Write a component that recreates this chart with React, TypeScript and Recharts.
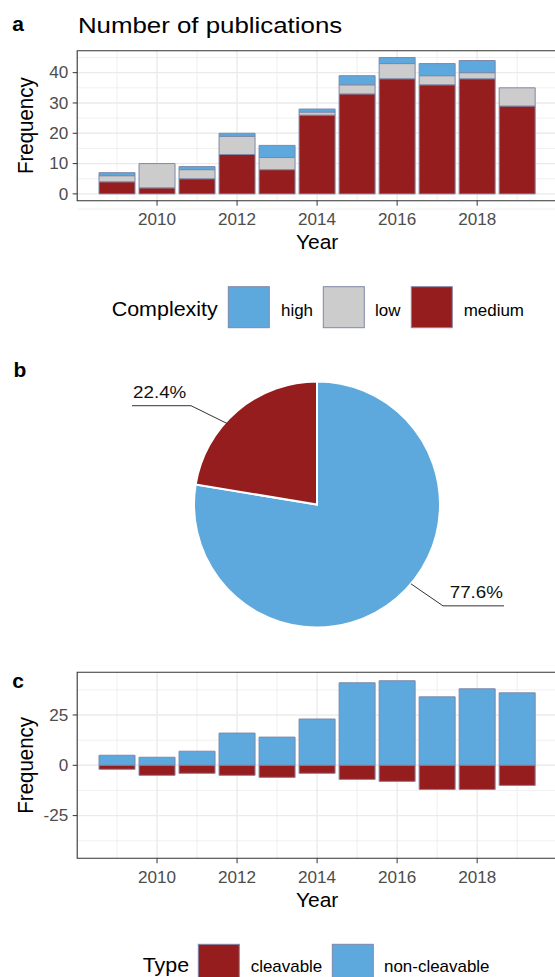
import React from 'react';
import {
  BarChart,
  Bar,
  XAxis,
  YAxis,
  CartesianGrid,
  ReferenceArea,
  PieChart,
  Pie,
  Cell,
  Label,
} from 'recharts';

// ---- data ----
const years = [2009, 2010, 2011, 2012, 2013, 2014, 2015, 2016, 2017, 2018, 2019];
const mediumCounts = [4, 2, 5, 13, 8, 26, 33, 38, 36, 38, 29];
const lowCounts = [2, 8, 3, 6, 4, 1, 3, 5, 3, 2, 6];
const highCounts = [1, 0, 1, 1, 4, 1, 3, 2, 4, 4, 0];

const nonCleavableCounts = [5, 4, 7, 16, 14, 23, 41, 42, 34, 38, 36];
const cleavableCounts = [-2, -5, -4, -5, -6, -4, -7, -8, -12, -12, -10];

const typeNames = ['non-cleavable', 'cleavable'];
const typePercents = [77.6, 22.4];

const yearTicks = [2010, 2012, 2014, 2016, 2018];
const freqTicksA = [0, 10, 20, 30, 40];
const freqTicksC = [-25, 0, 25];

// ---- styling ----
const FONT = '"Liberation Sans", Arial, Helvetica, sans-serif';
const COLORS: Record<string, string> = {
  high: '#5DA9DD',
  low: '#CCCCCC',
  medium: '#961D1D',
  cleavable: '#961D1D',
  'non-cleavable': '#5DA9DD',
};
const OUTLINE = '#7F88A8';
const GRID = '#EBEBEB';
const BORDER = '#333333';
const TICK_TEXT = '#4D4D4D';

const xDomain: [number, number] = [2008.005, 2019.995];
const yDomainA: [number, number] = [-2.25, 47.25];
const yDomainC: [number, number] = [-46.2, 46.2];

const complexityData = years.map((year, i) => ({
  year,
  medium: mediumCounts[i],
  low: lowCounts[i],
  high: highCounts[i],
}));

const typeData = years.map((year, i) => ({
  year,
  nonCleavable: nonCleavableCounts[i],
  cleavable: cleavableCounts[i],
}));

const pieData = typeNames.map((name, i) => ({ name, value: typePercents[i] }));

// major grid continues one break past the last labelled tick;
// minor grid lines sit halfway between major breaks
const withNext = (t: number[]) => [...t, t[t.length - 1] + (t[1] - t[0])];
const midpoints = (t: number[]) => {
  const step = t[1] - t[0];
  const out: number[] = [t[0] - step / 2];
  t.forEach((v) => out.push(v + step / 2));
  return out;
};

const majorYears = withNext(yearTicks);
const minorYears = midpoints(yearTicks);
const minorA = midpoints(freqTicksA);
const minorC = midpoints(freqTicksC);

// stretched text helper
const SText = ({
  x,
  y,
  sx = 1.07,
  anchor = 'start',
  size = 16,
  weight = 'normal',
  fill = '#000',
  children,
}: any) => (
  <text
    transform={`translate(${x},${y}) scale(${sx},1)`}
    textAnchor={anchor}
    fontSize={size}
    fontWeight={weight}
    fill={fill}
    fontFamily={FONT}
  >
    {children}
  </text>
);

const XTick = (p: any) => (
  <g transform={`translate(${p.x},${p.y})`}>
    <text
      transform="scale(1.07,1)"
      y={11.4}
      textAnchor="middle"
      fontSize={16}
      fill={TICK_TEXT}
      fontFamily={FONT}
    >
      {p.payload.value}
    </text>
  </g>
);

const YTick = (p: any) => (
  <g transform={`translate(${p.x},${p.y})`}>
    <text
      transform="scale(1.07,1)"
      dy="0.355em"
      textAnchor="end"
      fontSize={16}
      fill={TICK_TEXT}
      fontFamily={FONT}
    >
      {p.payload.value}
    </text>
  </g>
);

const yearTitle = (props: any) => {
  const vb = props.viewBox;
  return (
    <SText x={vb.x + vb.width / 2} y={vb.y + 48.6} sx={1.075} anchor="middle" size={19.5}>
      Year
    </SText>
  );
};

const freqTitle = (props: any) => {
  const vb = props.viewBox;
  return (
    <text
      transform={`translate(33,${vb.y + vb.height / 2}) scale(1.1,1) rotate(-90)`}
      textAnchor="middle"
      fontSize={20.5}
      fill="#000"
      fontFamily={FONT}
    >
      Frequency
    </text>
  );
};

// ---- pie labels with elbow leader lines ----
const RAD = Math.PI / 180;
const pieLabelLayout: Record<string, any> = {
  'non-cleavable': { shift: 9.5, rf: 1.0, elbow: [32, 22], run: 61, side: 'right' },
  cleavable: { shift: 7.6, rf: 0.98, elbow: [-36.5, -18], run: 59, side: 'left' },
};

const renderPieLabel = (p: any) => {
  const cfg = pieLabelLayout[p.name ?? p.payload?.name];
  if (!cfg) return null;
  const a = (p.midAngle + cfg.shift) * RAD;
  const r = p.outerRadius * cfg.rf;
  const ax = p.cx + r * Math.cos(a);
  const ay = p.cy - r * Math.sin(a);
  const ex = ax + cfg.elbow[0];
  const ey = ay + cfg.elbow[1];
  const dir = cfg.side === 'right' ? 1 : -1;
  const tx = ex + dir * cfg.run;
  const label = `${Number(p.value).toFixed(1)}%`;
  return (
    <g>
      <polyline
        points={`${ax},${ay} ${ex},${ey} ${tx},${ey}`}
        fill="none"
        stroke="#333"
        strokeWidth={1}
      />
      <SText
        x={cfg.side === 'right' ? tx - 1 : tx + 1}
        y={ey - 8}
        sx={1.16}
        anchor={cfg.side === 'right' ? 'end' : 'start'}
        size={16.2}
        fill="#111"
      >
        {label}
      </SText>
    </g>
  );
};

// ---- legends ----
const KEY = 41;
const complexityLegend = {
  title: 'Complexity',
  titleX: 111.7,
  keyTop: 286.7,
  baseline: 316,
  items: [
    { name: 'high', keyX: 228.3, textX: 281 },
    { name: 'low', keyX: 323.3, textX: 375 },
    { name: 'medium', keyX: 411.3, textX: 463.7 },
  ],
};
const typeLegend = {
  title: 'Type',
  titleX: 142.7,
  keyTop: 944.3,
  baseline: 971.7,
  items: [
    { name: 'cleavable', keyX: 198.3, textX: 250.7 },
    { name: 'non-cleavable', keyX: 332.3, textX: 384 },
  ],
};

const LegendRow = ({ spec }: any) => (
  <g>
    <SText x={spec.titleX} y={spec.baseline} sx={1.1} size={19.5}>
      {spec.title}
    </SText>
    {spec.items.map((it: any) => (
      <g key={it.name}>
        <rect
          x={it.keyX}
          y={spec.keyTop}
          width={KEY}
          height={KEY}
          fill={COLORS[it.name]}
          stroke={OUTLINE}
          strokeWidth={1}
        />
        <SText x={it.textX} y={spec.baseline} sx={1.06} size={16}>
          {it.name}
        </SText>
      </g>
    ))}
  </g>
);

const CHART_W = 560;

const xAxisProps = {
  dataKey: 'year',
  type: 'number' as const,
  domain: xDomain,
  allowDataOverflow: true,
  ticks: yearTicks,
  interval: 0 as const,
  height: 50,
  axisLine: false,
  tickLine: { stroke: BORDER, strokeWidth: 1 },
  tickSize: 5,
  tickMargin: 8,
};

export default function App() {
  return (
    <div
      style={{
        position: 'absolute',
        left: 0,
        top: 0,
        width: 555,
        height: 977,
        overflow: 'hidden',
        background: '#fff',
        fontFamily: FONT,
      }}
    >
      {/* panel a: stacked publications by complexity */}
      <div style={{ position: 'absolute', left: 0, top: 0 }}>
        <BarChart
          width={CHART_W}
          height={260}
          data={complexityData}
          margin={{ top: 50.7, right: CHART_W - 557, bottom: 9.3, left: 0 }}
        >
          <CartesianGrid
            stroke={GRID}
            strokeWidth={0.75}
            horizontalValues={minorA}
            verticalValues={minorYears}
          />
          <CartesianGrid
            stroke={GRID}
            strokeWidth={1.4}
            horizontalValues={freqTicksA}
            verticalValues={majorYears}
          />
          <XAxis {...xAxisProps} tick={<XTick />}>
            <Label content={yearTitle} />
          </XAxis>
          <YAxis
            type="number"
            domain={yDomainA}
            allowDataOverflow
            ticks={freqTicksA}
            interval={0}
            width={77.2}
            axisLine={false}
            tickLine={{ stroke: BORDER, strokeWidth: 1 }}
            tickSize={4.5}
            tickMargin={4.5}
            tick={<YTick />}
          >
            <Label content={freqTitle} />
          </YAxis>
          <Bar dataKey="medium" stackId="c" barSize={36} fill={COLORS.medium} stroke={OUTLINE} strokeWidth={1} isAnimationActive={false} />
          <Bar dataKey="low" stackId="c" barSize={36} fill={COLORS.low} stroke={OUTLINE} strokeWidth={1} isAnimationActive={false} />
          <Bar dataKey="high" stackId="c" barSize={36} fill={COLORS.high} stroke={OUTLINE} strokeWidth={1} isAnimationActive={false} />
          <ReferenceArea
            x1={xDomain[0]}
            x2={xDomain[1]}
            y1={yDomainA[0]}
            y2={yDomainA[1]}
            fill="none"
            fillOpacity={0}
            stroke={BORDER}
            strokeWidth={1.1}
            ifOverflow="visible"
          />
        </BarChart>
      </div>

      {/* panel b: share of cleavable vs non-cleavable */}
      <div style={{ position: 'absolute', left: 0, top: 360 }}>
        <PieChart width={555} height={300} margin={{ top: 0, right: 0, bottom: 0, left: 0 }}>
          <Pie
            data={pieData}
            dataKey="value"
            nameKey="name"
            cx={317}
            cy={144.5}
            outerRadius={123}
            innerRadius={0}
            startAngle={90}
            endAngle={-270}
            stroke="#fff"
            strokeWidth={2}
            labelLine={false}
            label={renderPieLabel}
            isAnimationActive={false}
          >
            {pieData.map((d) => (
              <Cell key={d.name} fill={COLORS[d.name]} />
            ))}
          </Pie>
        </PieChart>
      </div>

      {/* panel c: cleavable (down) vs non-cleavable (up) */}
      <div style={{ position: 'absolute', left: 0, top: 620 }}>
        <BarChart
          width={CHART_W}
          height={300}
          data={typeData}
          stackOffset="sign"
          margin={{ top: 52.3, right: CHART_W - 557, bottom: 11.7, left: 0 }}
        >
          <CartesianGrid
            stroke={GRID}
            strokeWidth={0.75}
            horizontalValues={minorC}
            verticalValues={minorYears}
          />
          <CartesianGrid
            stroke={GRID}
            strokeWidth={1.4}
            horizontalValues={freqTicksC}
            verticalValues={majorYears}
          />
          <XAxis {...xAxisProps} tick={<XTick />}>
            <Label content={yearTitle} />
          </XAxis>
          <YAxis
            type="number"
            domain={yDomainC}
            allowDataOverflow
            ticks={freqTicksC}
            interval={0}
            width={77.2}
            axisLine={false}
            tickLine={{ stroke: BORDER, strokeWidth: 1 }}
            tickSize={4.5}
            tickMargin={4.5}
            tick={<YTick />}
          >
            <Label content={freqTitle} />
          </YAxis>
          <Bar dataKey="nonCleavable" stackId="t" barSize={36} fill={COLORS['non-cleavable']} stroke={OUTLINE} strokeWidth={1} isAnimationActive={false} />
          <Bar dataKey="cleavable" stackId="t" barSize={36} fill={COLORS.cleavable} stroke={OUTLINE} strokeWidth={1} isAnimationActive={false} />
          <ReferenceArea
            x1={xDomain[0]}
            x2={xDomain[1]}
            y1={yDomainC[0]}
            y2={yDomainC[1]}
            fill="none"
            fillOpacity={0}
            stroke={BORDER}
            strokeWidth={1.1}
            ifOverflow="visible"
          />
        </BarChart>
      </div>

      {/* titles, panel tags and legends */}
      <svg
        width={555}
        height={977}
        style={{ position: 'absolute', left: 0, top: 0, pointerEvents: 'none' }}
      >
        <SText x={12.3} y={30.7} sx={1.05} size={20} weight="bold">a</SText>
        <SText x={77.9} y={32.7} sx={1.16} size={22.3}>Number of publications</SText>
        <LegendRow spec={complexityLegend} />
        <SText x={13.5} y={376.7} sx={1.05} size={20} weight="bold">b</SText>
        <SText x={12.3} y={688.3} sx={1.05} size={20} weight="bold">c</SText>
        <LegendRow spec={typeLegend} />
      </svg>
    </div>
  );
}
